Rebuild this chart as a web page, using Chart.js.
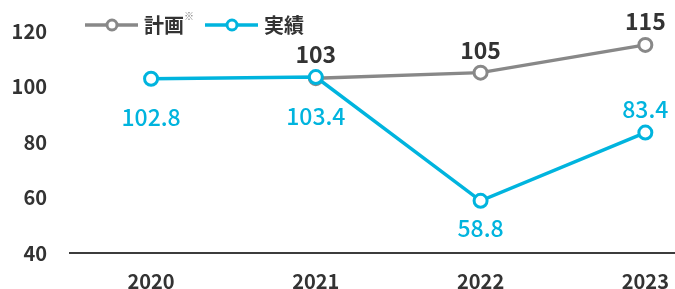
<!DOCTYPE html>
<html><head><meta charset="utf-8">
<script src="https://cdn.jsdelivr.net/npm/chart.js@4/dist/chart.umd.min.js"></script>
<style>html,body{margin:0;padding:0;background:#fff;}canvas{display:block;}</style>
</head><body>
<canvas id="c" width="675" height="289"></canvas>
<script>
// ---- data ----
const years = [2020, 2021, 2022, 2023];
const planLabel = "計画※";
const actualLabel = "実績";
const planValues = [null, 103, 105, 115];
const actualValues = [102.8, 103.4, 58.8, 83.4];
const yTicks = [40, 60, 80, 100, 120];

// ---- style ----
const GRAY = "#888888";
const BLUE = "#00B4DE";
const TEXT = "#333333";
const FONT = "'Noto Sans CJK JP', 'Noto Sans', sans-serif";
// label vertical offsets (px) relative to each point
const planLabelOffsets = [0, -24, -22, -24];
const actualLabelOffsets = [39, 39, 27, -23];

const toXY = vals => years.map((y, i) => ({x: y, y: vals[i]}));

const zeroPad = s => { s.paddingLeft = 0; s.paddingRight = 0; s.paddingTop = 0; s.paddingBottom = 0; };

const valueLabels = {
  id: 'valueLabels',
  afterDatasetsDraw(chart) {
    const ctx = chart.ctx;
    ctx.save();
    ctx.textAlign = 'center';
    ctx.textBaseline = 'middle';
    chart.data.datasets.forEach((ds, di) => {
      const meta = chart.getDatasetMeta(di);
      meta.data.forEach((pt, i) => {
        const v = ds.data[i].y;
        if (v === null || v === undefined) return;
        ctx.fillStyle = ds.labelColor;
        ctx.font = ds.labelFont;
        ctx.fillText(String(v), pt.x, pt.y + ds.labelOffsets[i]);
      });
    });
    ctx.restore();
  }
};

const lineLegend = {
  id: 'lineLegend',
  afterDraw(chart) {
    const ctx = chart.ctx;
    ctx.save();
    let x = 85;
    const y = 25;
    chart.data.datasets.forEach(ds => {
      ctx.strokeStyle = ds.borderColor;
      ctx.lineWidth = 3.5;
      ctx.beginPath();
      ctx.moveTo(x, y); ctx.lineTo(x + 53, y);
      ctx.stroke();
      ctx.beginPath();
      ctx.arc(x + 27, y, 5, 0, Math.PI * 2);
      ctx.fillStyle = '#fff';
      ctx.fill();
      ctx.lineWidth = 3;
      ctx.stroke();
      let tx = x + 59;
      let label = ds.label;
      let sup = '';
      if (label.endsWith('※')) { sup = '※'; label = label.slice(0, -1); }
      ctx.fillStyle = TEXT;
      ctx.textAlign = 'left';
      ctx.textBaseline = 'middle';
      ctx.font = 'bold 20px ' + FONT;
      ctx.fillText(label, tx, y);
      tx += ctx.measureText(label).width;
      if (sup) {
        ctx.font = '10px ' + FONT;
        ctx.fillStyle = '#777';
        ctx.fillText(sup, tx, y - 9);
        tx += ctx.measureText(sup).width;
      }
      x = tx + 11;
    });
    ctx.restore();
  }
};

new Chart(document.getElementById('c'), {
  type: 'line',
  data: {
    datasets: [
      {
        label: planLabel,
        data: toXY(planValues),
        borderColor: GRAY,
        backgroundColor: '#fff',
        borderWidth: 3.5,
        pointRadius: 6.5,
        pointBorderWidth: 3,
        pointBackgroundColor: '#fff',
        pointBorderColor: GRAY,
        spanGaps: false,
        order: 2,
        labelColor: TEXT,
        labelFont: 'bold 23px ' + FONT,
        labelOffsets: planLabelOffsets
      },
      {
        label: actualLabel,
        data: toXY(actualValues),
        borderColor: BLUE,
        backgroundColor: '#fff',
        borderWidth: 3.5,
        pointRadius: 6.5,
        pointBorderWidth: 3,
        pointBackgroundColor: '#fff',
        pointBorderColor: BLUE,
        order: 1,
        labelColor: BLUE,
        labelFont: '500 23px ' + FONT,
        labelOffsets: actualLabelOffsets
      }
    ]
  },
  options: {
    responsive: false,
    animation: false,
    layout: {autoPadding: false, padding: {top: 31, right: 0, bottom: 0, left: 0}},
    plugins: {legend: {display: false}, tooltip: {enabled: false}},
    elements: {line: {tension: 0}},
    scales: {
      x: {
        type: 'linear',
        min: 2019.508,
        max: 2023.18,
        afterBuildTicks: s => { s.ticks = years.map(v => ({value: v})); },
        afterFit: s => { s.height = 36; zeroPad(s); },
        grid: {display: false, drawTicks: false},
        border: {display: true, color: '#3c3c3c', width: 2},
        ticks: {
          padding: 16,
          color: TEXT,
          font: {family: FONT, size: 20, weight: 'bold'},
          callback: v => String(v)
        }
      },
      y: {
        min: 40,
        max: 120,
        afterBuildTicks: s => { s.ticks = yTicks.map(v => ({value: v})); },
        afterFit: s => { s.width = 70; zeroPad(s); },
        grid: {display: false, drawTicks: false},
        border: {display: false},
        ticks: {
          padding: 23,
          color: TEXT,
          font: {family: FONT, size: 20, weight: 'bold'},
          callback: v => String(v)
        }
      }
    }
  },
  plugins: [valueLabels, lineLegend]
});
</script>
</body></html>
